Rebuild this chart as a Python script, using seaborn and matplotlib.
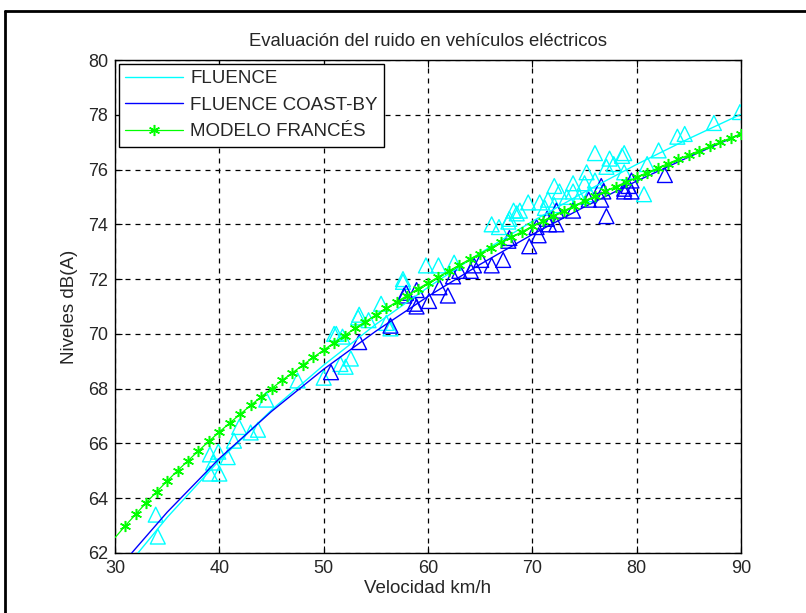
import numpy as np
import pandas as pd
import seaborn as sns
import matplotlib.pyplot as plt
from matplotlib.lines import Line2D

# FLUENCE (medidas, triangulos cian)
fluence_vel = [33.9, 34.1, 39.1, 39.9, 40.8, 39.1, 40.0, 39.4, 41.4, 41.9, 43.0, 43.7,
               44.5, 47.5, 50.0, 51.6, 52.1, 52.6, 51.2, 51.8, 53.4, 54.3, 56.0, 56.4,
               57.6, 55.5, 53.3, 51.0, 59.8, 61.0, 57.6, 62.5, 66.1, 66.8, 67.7, 68.5,
               76.0, 77.4, 78.6, 77.1, 77.8, 75.2, 76.0, 75.0, 73.9, 72.1, 72.6, 73.9,
               73.3, 71.5, 70.7, 69.6, 68.8, 68.2, 71.2, 72.1, 74.5, 75.5, 67.8,
               89.9, 87.4, 84.6, 83.9, 82.1, 78.8, 81.0, 78.8, 80.7]
fluence_db = [63.4, 62.6, 65.6, 65.7, 65.5, 64.9, 64.9, 65.3, 66.1, 66.6, 66.4, 66.5,
              67.6, 68.3, 68.4, 68.9, 68.8, 69.1, 70.0, 69.9, 70.7, 70.5, 70.4, 70.2,
              71.9, 71.1, 70.6, 70.0, 72.5, 72.5, 72.0, 72.6, 74.0, 73.9, 74.1, 74.4,
              76.6, 76.4, 76.5, 76.1, 76.2, 75.9, 75.6, 75.5, 75.5, 75.4, 75.2, 75.2,
              75.0, 74.9, 74.8, 74.8, 74.5, 74.5, 74.6, 74.7, 75.0, 75.1, 74.2,
              78.1, 77.7, 77.3, 77.2, 76.7, 76.6, 76.2, 75.9, 75.1]

# FLUENCE COAST-BY (medidas, triangulos azules)
coast_vel = [50.7, 53.4, 56.4, 57.7, 58.9, 57.9, 58.9, 58.7, 60.1, 61.1, 61.9, 62.4,
             63.0, 64.1, 64.4, 65.1, 66.1, 67.2, 67.7, 69.7, 67.8, 70.6, 70.4, 71.6,
             72.3, 71.4, 72.3, 73.9, 75.4, 76.6, 76.8, 76.6, 77.1, 78.8, 79.5, 79.2,
             78.8, 79.5, 82.7]
coast_db = [68.6, 69.7, 70.3, 71.4, 71.0, 71.5, 71.6, 71.1, 71.2, 71.7, 71.4, 72.1,
            72.3, 72.3, 72.5, 72.7, 72.5, 72.7, 73.4, 73.2, 73.5, 73.6, 73.9, 74.0,
            74.0, 74.2, 74.5, 74.5, 74.9, 74.9, 75.2, 75.4, 74.3, 75.3, 75.6, 75.4,
            75.2, 75.2, 75.8]

# curvas de ajuste
ajuste_vel = [32.2, 35, 40, 45, 50, 55, 60, 65, 70, 75, 80, 85, 90]
fluence_ajuste = [62.0, 63.3, 65.38, 67.22, 68.86, 70.35, 71.7, 72.95, 74.11, 75.18, 76.19, 77.13, 78.02]
coast_vel_ajuste = [31.6, 35, 40, 45, 50, 55, 60, 65, 70, 75, 80, 85, 90]
coast_ajuste = [62.0, 63.49, 65.45, 67.17, 68.71, 70.1, 71.37, 72.54, 73.63, 74.64, 75.58, 76.46, 77.3]

# modelo frances
modelo_vel = list(range(30, 91))
modelo_db = [62.56, 63.00, 63.42, 63.84, 64.24, 64.63, 65.01, 65.37, 65.73, 66.08, 66.42,
             66.75, 67.07, 67.39, 67.70, 68.00, 68.30, 68.58, 68.86, 69.14, 69.41,
             69.68, 69.94, 70.20, 70.45, 70.69, 70.94, 71.17, 71.40, 71.64, 71.86,
             72.08, 72.30, 72.51, 72.73, 72.93, 73.14, 73.34, 73.54, 73.73, 73.93,
             74.12, 74.31, 74.49, 74.67, 74.86, 75.03, 75.21, 75.38, 75.55, 75.72,
             75.89, 76.05, 76.22, 76.38, 76.53, 76.69, 76.85, 77.00, 77.15, 77.30]

x_ticks = [30, 40, 50, 60, 70, 80, 90]
y_ticks = [62, 64, 66, 68, 70, 72, 74, 76, 78, 80]


def main():
    sns.set_style("white")
    plt.rcParams['font.family'] = ['Liberation Sans', 'DejaVu Sans']

    fig = plt.figure(figsize=(8.06, 6.13), dpi=100)
    ax = fig.add_axes([0.1427, 0.0979, 0.7767, 0.8042])

    # marco negro de la captura
    fig.add_artist(Line2D([5 / 806, 1.0], [1 - 11 / 613, 1 - 11 / 613], color="black", lw=2))
    fig.add_artist(Line2D([5 / 806, 5 / 806], [0, 1 - 11 / 613], color="black", lw=2))

    sns.scatterplot(x=fluence_vel, y=fluence_db, marker="^", s=115, facecolor="none",
                    edgecolor="#00ffff", linewidth=1.0, ax=ax, zorder=3)
    sns.scatterplot(x=coast_vel, y=coast_db, marker="^", s=115, facecolor="none",
                    edgecolor="#0000ff", linewidth=1.0, ax=ax, zorder=3)

    sns.lineplot(x=ajuste_vel, y=fluence_ajuste, color="#00ffff", lw=1, ax=ax,
                 label="FLUENCE", zorder=4)
    sns.lineplot(x=coast_vel_ajuste, y=coast_ajuste, color="#0000ff", lw=1, ax=ax,
                 label="FLUENCE COAST-BY", zorder=4)
    ax.plot(modelo_vel, modelo_db, color="#00ff00", lw=0.9, marker=(6, 2, 0), ms=8,
            mew=1.1, markevery=list(range(1, len(modelo_vel))), label="MODELO FRANCÉS",
            zorder=5)

    ax.set_xlim(30, 90)
    ax.set_ylim(62, 80)
    ax.set_xticks(x_ticks)
    ax.set_yticks(y_ticks)
    ax.tick_params(direction="in", length=5, top=True, right=True, labelsize=13,
                   bottom=True, left=True, color="black", pad=5)
    ax.grid(True, color="black", linestyle=(0, (4, 4)), lw=0.9)
    for sp in ax.spines.values():
        sp.set_color("black")
        sp.set_linewidth(1)

    ax.set_title("Evaluación del ruido en vehículos eléctricos", fontsize=13.3, pad=10)
    ax.set_xlabel("Velocidad km/h", fontsize=13.5, labelpad=2)
    ax.set_ylabel("Niveles dB(A)", fontsize=13.5, labelpad=7)

    leg = ax.legend(loc="upper left", fontsize=13.5, fancybox=False, framealpha=1,
                    edgecolor="black", borderaxespad=0.2, handlelength=3.1,
                    handletextpad=0.35, labelspacing=0.5, borderpad=0.35)
    leg.get_frame().set_linewidth(1)

    fig.savefig("out.png", dpi=100, facecolor="white")
    plt.close()


if __name__ == "__main__":
    main()
